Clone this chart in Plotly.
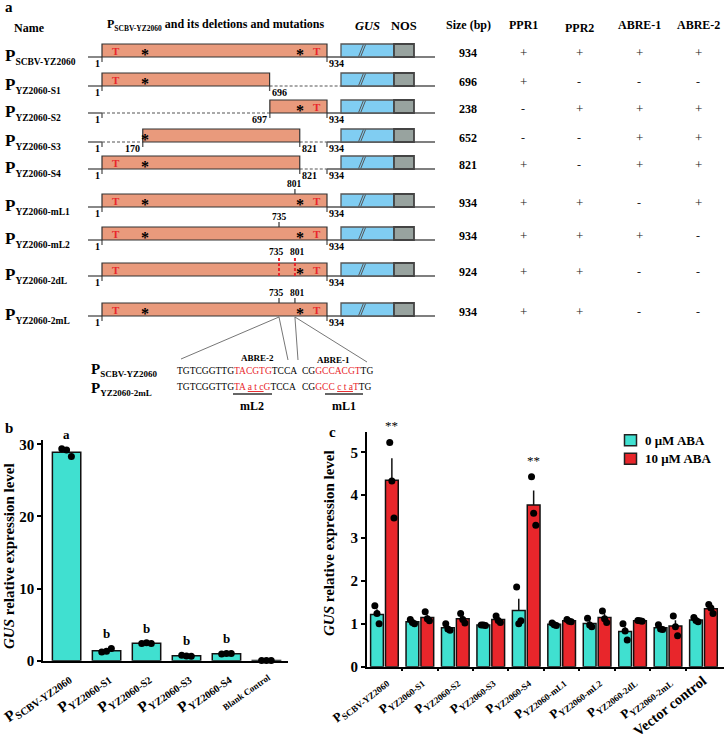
import numpy as np
import plotly.graph_objects as go

W, H = 725, 736
FONT = "Liberation Serif"

# ======================= DATA =======================
# ---- Panel a: promoter constructs ----
construct_ids = ["SCBV-YZ2060", "YZ2060-S1", "YZ2060-S2", "YZ2060-S3", "YZ2060-S4",
                 "YZ2060-mL1", "YZ2060-mL2", "YZ2060-2dL", "YZ2060-2mL"]
region_start = [1, 1, 697, 170, 1, 1, 1, 1, 1]
region_end = [934, 696, 934, 821, 821, 934, 934, 934, 934]
full_length = 934
pos_ticks = [[1, 934], [1, 696], [1, 697, 934], [1, 170, 821, 934], [1, 821, 934],
             [1, 934], [1, 934], [1, 934], [1, 934]]
t_marks = [[58, 891], [58], [891], [], [58], [58, 891], [58, 891], [58, 891], [58, 891]]
star_marks = [[180, 822], [180], [822], [180], [180], [180, 822], [180, 822], [822], [180, 822]]
mutation_sites = [[], [], [], [], [], [801], [735], [735, 801], [735, 801]]
deletion_row = [False, False, False, False, False, False, False, True, False]
sizes_bp = [934, 696, 238, 652, 821, 934, 934, 924, 934]
ppr1 = ["+", "+", "-", "-", "+", "+", "+", "+", "+"]
ppr2 = ["+", "-", "+", "-", "-", "+", "+", "+", "+"]
abre1 = ["+", "-", "+", "+", "+", "-", "+", "-", "-"]
abre2 = ["+", "-", "+", "+", "+", "+", "-", "-", "-"]
table_headers = ["Size (bp)", "PPR1", "PPR2", "ABRE-1", "ABRE-2"]

# ---- Panel b ----
b_labels = ["SCBV-YZ2060", "YZ2060-S1", "YZ2060-S2", "YZ2060-S3", "YZ2060-S4", "Blank Control"]
b_values = [28.9, 1.39, 2.41, 0.67, 0.95, 0.02]
b_points = [[29.4, 29.2, 28.3], [1.2, 1.3, 1.7], [2.4, 2.5, 2.4],
            [0.75, 0.65, 0.62], [0.92, 1.0, 1.0], [0.02, 0.02, 0.02]]
b_letters = ["a", "b", "b", "b", "b", ""]

# ---- Panel c ----
c_labels = ["SCBV-YZ2060", "YZ2060-S1", "YZ2060-S2", "YZ2060-S3", "YZ2060-S4",
            "YZ2060-mL1", "YZ2060-mL2", "YZ2060-2dL", "YZ2060-2mL", "Vector control"]
c_aba0 = [1.22, 1.05, 0.91, 0.97, 1.31, 0.99, 1.01, 0.82, 0.91, 1.09]
c_aba10 = [4.35, 1.15, 1.12, 1.10, 3.77, 1.07, 1.15, 1.07, 0.95, 1.35]
c_aba0_pts = [[1.42, 1.24, 1.0], [1.1, 1.03, 1.0], [1.0, 0.88, 0.85], [0.97, 0.97, 0.96],
              [1.86, 1.0, 1.07], [1.02, 0.98, 0.96], [1.13, 0.97, 0.93], [1.0, 0.83, 0.62],
              [0.98, 0.88, 0.87], [1.15, 1.08, 1.05]]
c_aba10_pts = [[5.23, 4.33, 3.47], [1.28, 1.12, 1.07], [1.24, 1.1, 1.02], [1.18, 1.08, 1.03],
               [4.43, 3.58, 3.30], [1.1, 1.06, 1.05], [1.3, 1.12, 1.03], [1.08, 1.07, 1.06],
               [1.18, 0.93, 0.72], [1.45, 1.37, 1.24]]
c_sig = ["**", "", "", "", "**", "", "", "", "", ""]
series_names = ["0 \u03bcM ABA", "10 \u03bcM ABA"]

# ======================= STYLE / LAYOUT =======================
C_PROM = "#E99A7C"
C_GUS = "#80CDF2"
C_NOS = "#98A39F"
C_CYAN = "#40E0D0"
C_RED = "#E8262B"
C_LINE = "#555555"

BP_PX = 225 / 933.0
ORIGIN_PX = 102


def px2bp(px):
    return (px - ORIGIN_PX) / BP_PX + 1


def fx(px):
    return px / W


def fy(py):
    return 1 - py / H


def sub(main, s, sub_px):
    return "%s<sub><span style='font-size:%spx'>%s</span></sub>" % (main, sub_px, s)


row_base = [57, 86, 113, 142, 169, 207, 240, 276, 316]
RECT_H = 13
LINE_START = px2bp(88)
GUS_START = px2bp(341)
GUS_END = px2bp(394)
NOS_END = px2bp(414)
LINE_END = px2bp(435)
table_x = [468, 523, 579, 639, 698]
table_hy = [25, 25, 28, 25, 25]

fig = go.Figure()
ann = []
shapes = []


def text(t, x, y, size, xref="paper", yref="paper", xanchor="center", yanchor="middle",
         color="black", bold=True, angle=0, yshift=0, xshift=0):
    ann.append(dict(text=t, x=x, y=y, xref=xref, yref=yref, xanchor=xanchor, yanchor=yanchor,
                    showarrow=False, textangle=angle, yshift=yshift, xshift=xshift,
                    font=dict(family=FONT, size=size, color=color,
                              weight="bold" if bold else "normal")))


# ---------------- Panel a ----------------
solid_x, solid_y, dash_x, dash_y, tk_x, tk_y, mt_x, mt_y = [], [], [], [], [], [], [], []
for i, name in enumerate(construct_ids):
    y = row_base[i]
    s, e = region_start[i], region_end[i]
    ticks = pos_ticks[i]
    solid_x += [LINE_START, 1, None]
    solid_y += [y, y, None]
    if s > 1:
        dash_x += [1, s, None]
        dash_y += [y, y, None]
    right_anchor = full_length if full_length in ticks else GUS_START
    if e < full_length:
        dash_x += [e, right_anchor, None]
        dash_y += [y, y, None]
        solid_x += [right_anchor, LINE_END, None]
    else:
        solid_x += [e, LINE_END, None]
    solid_y += [y, y, None]
    for p in ticks:
        tk_x += [p, p, None]
        tk_y += [y, y + 5, None]
        left = (p == 1) or (p == s)
        text(str(p), p + (-2 if left else 2), y + 6, 10, xref="x", yref="y",
             xanchor="right" if left else "left")
    # promoter, GUS and NOS boxes
    shapes.append(dict(type="rect", xref="x", yref="y", x0=s, x1=e, y0=y - RECT_H, y1=y,
                       fillcolor=C_PROM, line=dict(color="#333333", width=1.2), layer="above"))
    shapes.append(dict(type="rect", xref="x", yref="y", x0=GUS_START, x1=GUS_END, y0=y - RECT_H,
                       y1=y, fillcolor=C_GUS, line=dict(color="#555555", width=1.3), layer="above"))
    shapes.append(dict(type="rect", xref="x", yref="y", x0=GUS_END, x1=NOS_END, y0=y - RECT_H,
                       y1=y, fillcolor=C_NOS, line=dict(color="#444444", width=1.8), layer="above"))
    mid = GUS_START + 0.4 * (GUS_END - GUS_START)
    for off in (-5, 4):
        shapes.append(dict(type="line", xref="x", yref="y", x0=mid + off - 10, x1=mid + off + 10,
                           y0=y - 0.5, y1=y - RECT_H + 0.5, line=dict(color="#555555", width=1),
                           layer="above"))
    for p in t_marks[i]:
        text("T", p, y - 6.5, 11, xref="x", yref="y", color="#E8262B")
    for p in star_marks[i]:
        text("*", p, y - 3, 16, xref="x", yref="y")
    n_sites = len(mutation_sites[i])
    for k, p in enumerate(mutation_sites[i]):
        xs_ = 0 if n_sites == 1 else (-3 if k == 0 else 3)
        if deletion_row[i]:
            shapes.append(dict(type="line", xref="x", yref="y", x0=p, x1=p, y0=y - RECT_H - 5,
                               y1=y, line=dict(color="#E8262B", width=2, dash="3px,2px"),
                               layer="above"))
            text(str(p), p, y - RECT_H - 11, 9.5, xref="x", yref="y", xshift=xs_)
        else:
            mt_x += [p, p, None]
            mt_y += [y - RECT_H, y - RECT_H - 5, None]
            text(str(p), p, y - RECT_H - 10, 9.5, xref="x", yref="y", xshift=xs_)
    # row label
    text(sub("P", name, 9.5), fx(3), y - 1, 17, yref="y", xanchor="left")
    # table
    vals = [str(sizes_bp[i]), ppr1[i], ppr2[i], abre1[i], abre2[i]]
    for j, v in enumerate(vals):
        if j == 0:
            text(v, fx(table_x[j]), y - 4.5, 12, yref="y")
        else:
            text(v, fx(table_x[j]), y - 4.5, 13 if v == "+" else 12, yref="y", bold=False,
                 color="#222222")

fig.add_trace(go.Scatter(x=solid_x, y=solid_y, mode="lines", line=dict(color=C_LINE, width=1.4),
                         xaxis="x", yaxis="y", showlegend=False, hoverinfo="skip"))
fig.add_trace(go.Scatter(x=dash_x, y=dash_y, mode="lines",
                         line=dict(color=C_LINE, width=1.2, dash="3px,2px"),
                         xaxis="x", yaxis="y", showlegend=False, hoverinfo="skip"))
fig.add_trace(go.Scatter(x=tk_x, y=tk_y, mode="lines", line=dict(color=C_LINE, width=1.3),
                         xaxis="x", yaxis="y", showlegend=False, hoverinfo="skip"))
fig.add_trace(go.Scatter(x=mt_x, y=mt_y, mode="lines", line=dict(color="#333333", width=1.2),
                         xaxis="x", yaxis="y", showlegend=False, hoverinfo="skip"))

# fan lines from the 2mL construct to the sequence detail
last = len(construct_ids) - 1
fan_targets = [[181, 359], [288, 360], [298, 360], [367, 362]]
fan_from = [mutation_sites[last][0], mutation_sites[last][0],
            mutation_sites[last][1], mutation_sites[last][1]]
fan_x, fan_y = [], []
for src, (tx, ty) in zip(fan_from, fan_targets):
    fan_x += [src, px2bp(tx), None]
    fan_y += [row_base[last] + 1, ty, None]
fig.add_trace(go.Scatter(x=fan_x, y=fan_y, mode="lines", line=dict(color="#666666", width=0.9),
                         xaxis="x", yaxis="y", showlegend=False, hoverinfo="skip"))

# headers
text("a", fx(3), fy(7), 15, xanchor="left")
text("Name", fx(29), fy(28), 12)
text(sub("P", "SCBV-YZ2060", 7.5) + " and its deletions and mutations", fx(216), fy(25), 12)
text("<i>GUS</i>", fx(367), fy(26), 12.5)
text("NOS", fx(404), fy(26), 12.5)
for hx, hy, h in zip(table_x, table_hy, table_headers):
    text(h, fx(hx), fy(hy), 12)

# sequence detail
RED = "#E8262B"
text(sub("P", "SCBV-YZ2060", 9), fx(89), fy(370), 15, xanchor="left")
text(sub("P", "YZ2060-2mL", 9), fx(89), fy(389), 15, xanchor="left")
text("TGTCGGTTG<span style='color:%s'>TACGTG</span>TCCA" % RED, fx(175), fy(371), 9.5,
     xanchor="left", bold=False)
text("CG<span style='color:%s'>GCCACGT</span>TG" % RED, fx(300), fy(371), 9.5,
     xanchor="left", bold=False)
text("TGTCGGTTG<span style='color:%s'>TA <span style='text-decoration:underline'>a t c</span>G</span>TCCA" % RED,
     fx(175), fy(387), 9.5, xanchor="left", bold=False)
text("CG<span style='color:%s'>GCC <span style='text-decoration:underline'>c t a</span>T</span>TG" % RED,
     fx(300), fy(387), 9.5, xanchor="left", bold=False)
text("ABRE-2", fx(257), fy(358), 9)
text("ABRE-1", fx(333), fy(360), 9)
text("mL2", fx(252), fy(406), 12)
text("mL1", fx(344), fy(406), 12)
for x0, x1 in ((233, 272), (325, 363)):
    shapes.append(dict(type="line", xref="paper", yref="paper", x0=fx(x0), x1=fx(x1),
                       y0=fy(394), y1=fy(394), line=dict(color="#333333", width=1.3)))

# ---------------- Panel b ----------------
bx = np.arange(len(b_labels))
fig.add_trace(go.Bar(x=bx, y=b_values, width=0.71, marker=dict(color=C_CYAN,
                     line=dict(color="#111111", width=1.5)), xaxis="x2", yaxis="y2",
                     showlegend=False))
jit_b = [-0.12, 0.0, 0.12]
px_, py_ = [], []
for i, pts in enumerate(b_points):
    for k, v in enumerate(pts):
        px_.append(i + jit_b[k])
        py_.append(v)
fig.add_trace(go.Scatter(x=px_, y=py_, mode="markers", marker=dict(color="black", size=7),
                         xaxis="x2", yaxis="y2", showlegend=False, cliponaxis=False))
for i, l in enumerate(b_letters):
    if l:
        text(l, i, max(b_points[i]), 13, xref="x2", yref="y2", yanchor="bottom", yshift=5)
text("b", fx(3), fy(428), 15, xanchor="left")
text("<i>GUS</i> relative expression level", fx(9), fy(556), 15, angle=-90)

b_ticktext = ["P<sub>%s</sub>" % l if l != "Blank Control"
              else "<span style='font-size:9px'>%s</span>" % l for l in b_labels]

# ---------------- Panel c ----------------
cx = np.arange(len(c_labels))
BW = 0.36
OFF0, OFF1 = -0.39, 0.03
sem0 = [float(np.std(p, ddof=1) / np.sqrt(len(p))) for p in c_aba0_pts]
sem1 = [float(np.std(p, ddof=1) / np.sqrt(len(p))) for p in c_aba10_pts]
series_colors = [C_CYAN, C_RED]
for vals, sem, off, col, nm in ((c_aba0, sem0, OFF0, C_CYAN, series_names[0]),
                                (c_aba10, sem1, OFF1, C_RED, series_names[1])):
    fig.add_trace(go.Bar(x=cx, y=vals, width=BW, offset=off, name=nm,
                         marker=dict(color=col, line=dict(color="#111111", width=1.5)),
                         error_y=dict(type="data", array=sem, arrayminus=[0] * len(sem),
                                      symmetric=False, color="#111111", thickness=1.5, width=0),
                         xaxis="x3", yaxis="y3", showlegend=False))
jit_c = [-0.06, 0.0, 0.06]
for pts_all, off in ((c_aba0_pts, OFF0), (c_aba10_pts, OFF1)):
    xs, ys = [], []
    for i, pts in enumerate(pts_all):
        for k, v in enumerate(pts):
            xs.append(i + off + BW / 2 + jit_c[k])
            ys.append(v)
    fig.add_trace(go.Scatter(x=xs, y=ys, mode="markers", marker=dict(color="black", size=7),
                             xaxis="x3", yaxis="y3", showlegend=False, cliponaxis=False))
for i, s in enumerate(c_sig):
    if s:
        text(s, i + OFF1 + BW / 2, max(c_aba10_pts[i]), 13, xref="x3", yref="y3",
             yanchor="bottom", yshift=7, bold=False)
text("c", fx(327), fy(432), 15, xanchor="left")
text("<i>GUS</i> relative expression level", fx(329), fy(543), 15, angle=-90)

# legend (drawn as key boxes + labels)
legend_rows = [440.3, 458.8]
for ly, col, nm in zip(legend_rows, series_colors, series_names):
    shapes.append(dict(type="rect", xref="paper", yref="paper", x0=fx(624.5), x1=fx(636.5),
                       y0=fy(ly - 5.5), y1=fy(ly + 5.5), fillcolor=col,
                       line=dict(color="#222222", width=1.5)))
    text(nm, fx(643), fy(ly), 13, xanchor="left")

c_ticktext = ["P<sub>%s</sub>" % l if l != "Vector control"
              else "<span style='font-size:14.5px'>%s</span>" % l for l in c_labels]

# ---------------- Layout ----------------
axfont = dict(family=FONT, size=15, color="black", weight="bold")
fig.update_layout(
    width=W, height=H, margin=dict(l=0, r=0, t=0, b=0, autoexpand=False),
    paper_bgcolor="white", plot_bgcolor="rgba(0,0,0,0)",
    barmode="overlay", showlegend=False,
    font=dict(family=FONT, color="black"),
    xaxis=dict(domain=[0, 1], range=[px2bp(0), px2bp(W)], visible=False, fixedrange=True,
               automargin=False),
    yaxis=dict(domain=[0, 1], range=[H, 0], visible=False, fixedrange=True, automargin=False),
    xaxis2=dict(domain=[fx(43), fx(288)], range=[-0.59, 5.54], anchor="y2", automargin=False,
                tickvals=list(bx), ticktext=b_ticktext, tickangle=-35, ticks="",
                showline=True, linecolor="black", linewidth=1.5, showgrid=False,
                zeroline=False, tickfont=dict(family=FONT, size=15, color="black", weight="bold")),
    yaxis2=dict(domain=[fy(660.7), fy(440)], range=[0, 30.6], anchor="x2", automargin=False,
                tickvals=[0, 10, 20, 30], ticks="outside", ticklen=4, tickwidth=1.5,
                tickcolor="black", showline=True, linecolor="black", linewidth=1.5,
                showgrid=False, zeroline=False, tickfont=axfont),
    xaxis3=dict(domain=[fx(366.7), fx(724)], range=[-0.5, 9.58], anchor="y3", automargin=False,
                tickvals=list(cx), ticktext=c_ticktext, tickangle=-38, ticks="",
                minor=dict(tickvals=[k + 0.5 for k in range(len(c_labels) - 1)],
                           ticks="outside", ticklen=3, tickwidth=1.5, tickcolor="black"),
                showline=True, linecolor="black", linewidth=1.5, showgrid=False,
                zeroline=False, tickfont=dict(family=FONT, size=13, color="black", weight="bold")),
    yaxis3=dict(domain=[fy(666.7), fy(431.7)], range=[0, 5.48], anchor="x3", automargin=False,
                tickvals=[0, 1, 2, 3, 4, 5], ticks="outside", ticklen=4, tickwidth=1.5,
                tickcolor="black", showline=True, linecolor="black", linewidth=1.5,
                showgrid=False, zeroline=False, tickfont=axfont),
    annotations=ann, shapes=shapes,
)

fig.write_html("out.html", config={"displayModeBar": False},
               post_script="document.body.style.margin='0';document.body.style.overflow='hidden';")
